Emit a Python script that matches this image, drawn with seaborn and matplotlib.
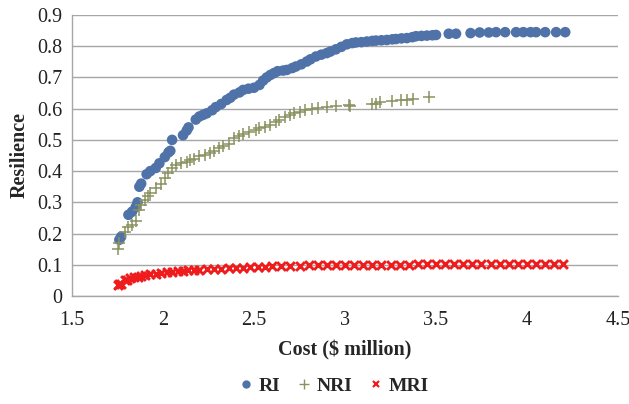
import numpy as np
import pandas as pd
import matplotlib
matplotlib.use("Agg")
import matplotlib.pyplot as plt
from matplotlib.lines import Line2D
import seaborn as sns

# ---- data ----
ri_x = [1.76, 1.77, 1.81, 1.83, 1.85, 1.86, 1.87, 1.88, 1.91, 1.93, 1.96, 1.98, 2.01, 2.03, 2.04, 2.05,
        2.11, 2.13, 2.14, 2.18, 2.20, 2.22, 2.24, 2.27, 2.29, 2.32, 2.35, 2.37, 2.39, 2.42, 2.44, 2.47,
        2.50, 2.53, 2.55, 2.57, 2.59, 2.61, 2.63, 2.66, 2.68, 2.71, 2.73, 2.76, 2.79, 2.81, 2.84, 2.87,
        2.90, 2.92, 2.95, 2.98, 3.01, 3.04, 3.06, 3.09, 3.12, 3.15, 3.17, 3.20, 3.23, 3.26, 3.28, 3.31,
        3.34, 3.37, 3.39, 3.42, 3.45, 3.48, 3.50, 3.57, 3.61, 3.69, 3.74, 3.79, 3.83, 3.88, 3.94, 3.98,
        4.02, 4.05, 4.10, 4.16, 4.21]
ri_y = [0.18, 0.19, 0.26, 0.27, 0.285, 0.30, 0.35, 0.36, 0.39, 0.40, 0.41, 0.425, 0.445, 0.46, 0.465, 0.50,
        0.515, 0.53, 0.54, 0.565, 0.575, 0.58, 0.585, 0.595, 0.605, 0.615, 0.628, 0.635, 0.645, 0.652, 0.66, 0.664,
        0.667, 0.676, 0.69, 0.70, 0.708, 0.714, 0.72, 0.722, 0.724, 0.73, 0.735, 0.742, 0.751, 0.758, 0.767, 0.773,
        0.778, 0.783, 0.79, 0.798, 0.806, 0.81, 0.812, 0.813, 0.815, 0.817, 0.818, 0.819, 0.82, 0.822, 0.823, 0.825,
        0.826, 0.829, 0.832, 0.833, 0.834, 0.835, 0.836, 0.84, 0.84, 0.842, 0.844, 0.844, 0.845, 0.845, 0.845, 0.845,
        0.845, 0.845, 0.845, 0.845, 0.845]

nri_x = [1.75, 1.76, 1.79, 1.81, 1.83, 1.85, 1.87, 1.88, 1.90, 1.92, 1.93, 1.96, 1.99, 2.01, 2.03, 2.05,
         2.07, 2.10, 2.13, 2.15, 2.17, 2.20, 2.23, 2.26, 2.28, 2.31, 2.33, 2.36, 2.39, 2.42, 2.44, 2.47,
         2.51, 2.53, 2.56, 2.59, 2.62, 2.64, 2.67, 2.70, 2.72, 2.75, 2.78, 2.82, 2.85, 2.90, 2.95, 3.02,
         3.03, 3.15, 3.17, 3.19, 3.26, 3.31, 3.34, 3.375, 3.46]
nri_y = [0.15, 0.17, 0.205, 0.22, 0.228, 0.24, 0.275, 0.29, 0.308, 0.32, 0.33, 0.345, 0.36, 0.377, 0.393, 0.41,
         0.42, 0.425, 0.43, 0.435, 0.44, 0.447, 0.452, 0.458, 0.465, 0.473, 0.48, 0.488, 0.505, 0.512, 0.52, 0.525,
         0.532, 0.537, 0.542, 0.548, 0.556, 0.564, 0.572, 0.58, 0.585, 0.59, 0.595, 0.60, 0.602, 0.605, 0.607, 0.612,
         0.61, 0.615, 0.615, 0.62, 0.626, 0.628, 0.628, 0.63, 0.636]

mri_x = [1.75, 1.76, 1.77, 1.79, 1.80, 1.82, 1.84, 1.86, 1.88, 1.90, 1.93, 1.96, 1.99, 2.02, 2.05, 2.08,
         2.11, 2.14, 2.17, 2.20, 2.24, 2.28, 2.32, 2.36, 2.40, 2.44, 2.48, 2.52, 2.56, 2.60, 2.65, 2.70,
         2.75, 2.80, 2.85, 2.90, 2.95, 3.00, 3.05, 3.10, 3.15, 3.20, 3.25, 3.30, 3.35, 3.40, 3.45, 3.50,
         3.55, 3.60, 3.65, 3.70, 3.75, 3.80, 3.85, 3.90, 3.95, 4.00, 4.05, 4.10, 4.15, 4.20]
mri_y = [0.035, 0.04, 0.038, 0.05, 0.052, 0.057, 0.06, 0.062, 0.065, 0.067, 0.07, 0.072, 0.074, 0.076, 0.078, 0.08,
         0.081, 0.082, 0.083, 0.084, 0.085, 0.087, 0.088, 0.089, 0.09, 0.091, 0.092, 0.093, 0.094, 0.095, 0.096, 0.097,
         0.097, 0.098, 0.098, 0.099, 0.099, 0.10, 0.10, 0.10, 0.10, 0.10, 0.10, 0.10, 0.10, 0.101, 0.101, 0.101,
         0.101, 0.101, 0.101, 0.102, 0.102, 0.102, 0.102, 0.102, 0.102, 0.102, 0.102, 0.102, 0.102, 0.102]

x_ticks = [1.5, 2, 2.5, 3, 3.5, 4, 4.5]
x_tick_labels = ["1.5", "2", "2.5", "3", "3.5", "4", "4.5"]
y_ticks = [0, 0.1, 0.2, 0.3, 0.4, 0.5, 0.6, 0.7, 0.8, 0.9]
y_tick_labels = ["0", "0.1", "0.2", "0.3", "0.4", "0.5", "0.6", "0.7", "0.8", "0.9"]

series_names = ["RI", "NRI", "MRI"]

# ---- plotting ----
sns.set_style("white")
plt.rcParams['font.family'] = ['Liberation Serif', 'DejaVu Serif']

c_ri = "#4f72a8"
c_nri = "#8a9260"
c_mri = "#ee1c1c"

fig = plt.figure(figsize=(6.29, 4.04), dpi=100)
ax = fig.add_axes([0.1145, 0.2673, 0.868, 0.6956])

df_ri = pd.DataFrame({"Cost": ri_x, "Resilience": ri_y})
df_nri = pd.DataFrame({"Cost": nri_x, "Resilience": nri_y})
df_mri = pd.DataFrame({"Cost": mri_x, "Resilience": mri_y})

sns.scatterplot(data=df_ri, x="Cost", y="Resilience", ax=ax, color=c_ri, marker="o",
                s=58, edgecolor="none", zorder=3)
sns.scatterplot(data=df_nri, x="Cost", y="Resilience", ax=ax, color=c_nri, marker="+",
                s=65, linewidth=1.1, zorder=4)
sns.scatterplot(data=df_mri, x="Cost", y="Resilience", ax=ax, color=c_mri, marker="x",
                s=40, linewidth=2.1, zorder=4)

ax.set_xlim(1.5, 4.5)
ax.set_ylim(0, 0.9)
ax.set_xticks(x_ticks)
ax.set_xticklabels(x_tick_labels)
ax.set_yticks(y_ticks)
ax.set_yticklabels(y_tick_labels)

grid_c = "#a6a6a6"
ax.yaxis.grid(True, color=grid_c, linewidth=1.0)
ax.xaxis.grid(False)
ax.set_axisbelow(True)
for side in ["top", "right"]:
    ax.spines[side].set_visible(False)
for side in ["left", "bottom"]:
    ax.spines[side].set_color(grid_c)
    ax.spines[side].set_linewidth(1.0)

ax.tick_params(axis="both", which="major", labelsize=14.5, colors="#222222",
               length=4, width=1.0, direction="out")
ax.tick_params(axis="x", color=grid_c, pad=7)
ax.tick_params(axis="y", color=grid_c, pad=3)

ax.set_xlabel("Cost ($ million)", fontsize=14.5, fontweight="bold", labelpad=7)
ax.set_ylabel("Resilience", fontsize=14.5, fontweight="bold", labelpad=5)

handles = [
    Line2D([], [], linestyle="none", marker="o", markersize=6, color=c_ri, markeredgecolor="none"),
    Line2D([], [], linestyle="none", marker="+", markersize=7, color=c_nri, markeredgewidth=1.0),
    Line2D([], [], linestyle="none", marker="x", markersize=5, color=c_mri, markeredgewidth=1.6),
]
leg = fig.legend(handles, series_names, loc="center", bbox_to_anchor=(0.53, 0.045), ncol=3,
                 frameon=False, handletextpad=0.25, columnspacing=0.8, handlelength=0.8,
                 prop={"weight": "bold", "size": 14})

fig.savefig("out.png", dpi=100)
